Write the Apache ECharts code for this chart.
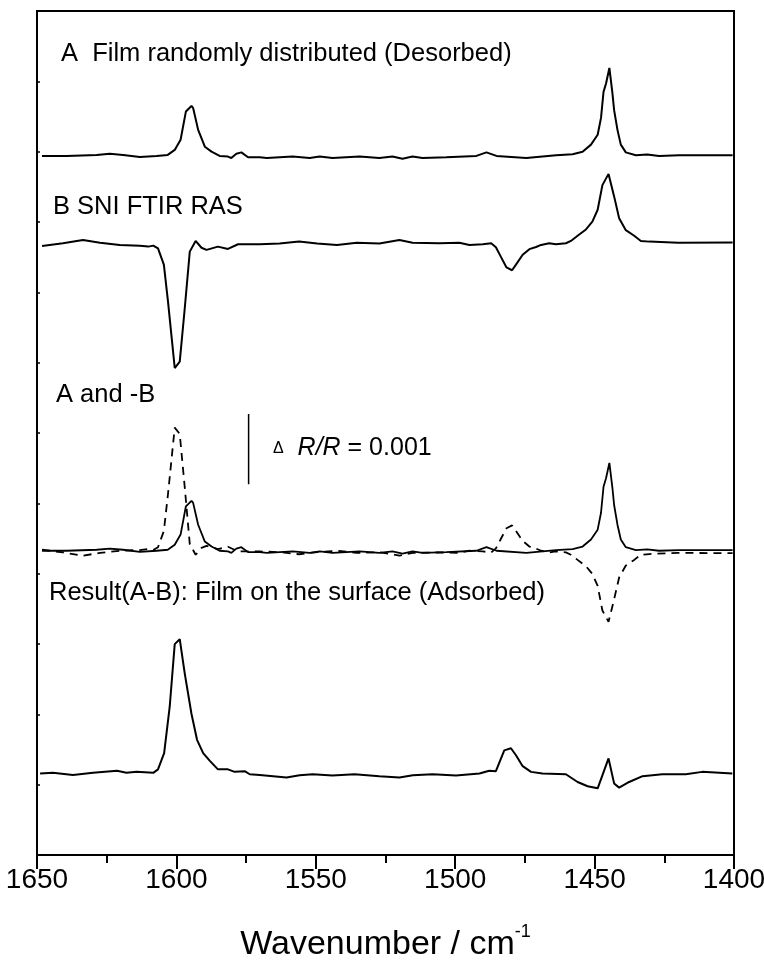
<!DOCTYPE html>
<html><head><meta charset="utf-8">
<script src="https://cdn.jsdelivr.net/npm/echarts/dist/echarts.min.js"></script>
<style>html,body{margin:0;padding:0;background:#fff}#c{width:764px;height:968px}</style>
</head><body><div id="c"></div>
<script>
// ---- Data (wavenumber in cm-1, signal in units of 0.001 ΔR/R, relative to each trace's baseline) ----
const filmA_wn = [1648.2,1639.4,1628.6,1623.9,1619.1,1613.1,1607.1,1603.1,1600.6,1598.5,1596.6,1594.6,1594.0,1592.2,1589.8,1587.4,1584.5,1581.5,1580.3,1578.5,1576.7,1574.3,1570.1,1567.6,1558.3,1552.2,1548.6,1544.0,1534.3,1527.2,1522.5,1518.9,1515.3,1511.7,1503.2,1492.4,1488.8,1485.2,1474.5,1463.8,1457.9,1454.3,1451.3,1448.9,1447.7,1446.8,1445.9,1444.7,1443.6,1443.0,1441.8,1440.6,1438.8,1435.2,1431.1,1426.9,1419.7,1400.5];
const filmA_val = [0,0,0.014,0.03,0.014,-0.015,0,0.014,0.085,0.23,0.63,0.71,0.68,0.37,0.13,0.06,0,-0.01,-0.03,0.03,0.05,-0.02,-0.02,-0.03,-0.01,-0.03,-0.01,-0.03,-0.01,-0.03,-0.01,-0.04,-0.01,-0.03,-0.02,0,0.05,0,-0.03,0.01,0.024,0.06,0.16,0.30,0.54,0.91,1.03,1.25,0.89,0.65,0.37,0.16,0.05,0.01,0.02,0,0.01,0.01];

const rasB_wn = [1648.2,1640.7,1633.5,1627.4,1620.3,1613.1,1610.1,1608.3,1606.6,1604.5,1603.0,1601.8,1600.6,1598.8,1597.0,1595.2,1593.1,1591.0,1589.2,1585.1,1581.5,1577.9,1570.1,1563.0,1556.0,1549.5,1542.4,1535.3,1527.2,1520.0,1515.3,1505.7,1498.5,1494.9,1490.1,1487.1,1485.4,1483.6,1481.6,1479.6,1478.2,1475.8,1473.4,1471.0,1469.2,1466.3,1463.9,1460.3,1458.5,1456.1,1453.1,1450.8,1448.9,1447.2,1445.0,1443.0,1441.2,1438.8,1435.8,1433.4,1430.4,1420.0,1400.5];
const rasB_val = [-0.014,0.024,0.07,0.03,0,-0.01,-0.024,-0.01,-0.05,-0.28,-0.81,-1.28,-1.75,-1.66,-0.90,-0.095,0.057,-0.04,-0.07,-0.024,-0.057,0.01,0.01,0.02,0.05,0.02,0,0.03,0.02,0.07,0.03,0.024,0.03,0,0.01,0.024,-0.033,-0.17,-0.32,-0.36,-0.28,-0.14,-0.06,-0.03,0,0.024,0.01,0.024,0.057,0.13,0.22,0.33,0.50,0.85,1.01,0.69,0.38,0.21,0.13,0.057,0.047,0.03,0.035];

const result_wn = [1648.9,1644.3,1637.1,1629.9,1621.3,1617.9,1614.3,1608.3,1606.6,1604.4,1602.4,1600.6,1598.8,1597.0,1594.6,1592.6,1590.4,1588.0,1585.1,1581.5,1579.1,1575.5,1573.7,1570.1,1560.5,1555.8,1551.1,1544.0,1536.1,1527.2,1520.0,1515.2,1508.1,1499.7,1491.3,1487.8,1485.4,1482.4,1480.0,1478.2,1475.8,1472.8,1468.7,1460.3,1456.1,1452.5,1448.9,1445.0,1443.0,1441.2,1437.6,1432.8,1425.7,1417.3,1411.4,1400.6];
const result_val = [-0.02,-0.01,-0.04,-0.01,0.02,-0.01,0.004,-0.01,0.04,0.27,0.93,1.82,1.89,1.40,0.83,0.46,0.27,0.16,0.04,0.04,0.004,0.014,-0.03,-0.04,-0.075,-0.043,-0.03,-0.047,-0.03,-0.057,-0.075,-0.043,-0.03,-0.047,-0.02,0.02,0.014,0.31,0.34,0.24,0.085,0.004,-0.02,-0.03,-0.14,-0.2,-0.23,0.195,-0.16,-0.22,-0.14,-0.057,-0.03,-0.03,0.004,-0.02];

// vertical offsets of the stacked traces (y-axis units)
const offsetA = 9.94, offsetB = 8.674, offsetMid = 4.326, offsetResult = 1.178;

// scale bar ΔR/R = 0.001
const scaleBarX = [1574.1, 1574.1];
const scaleBarY = [5.27, 6.27];

const xTicks = [1650, 1600, 1550, 1500, 1450, 1400];

function shift(wn, val, off, sign) { return wn.map((w, i) => [w, off + sign * val[i]]); }

const FONT = "'Liberation Sans', Arial, sans-serif";
const solid = { color: '#000', width: 2 };

const chart = echarts.init(document.getElementById('c'), null, { renderer: 'canvas' });
chart.setOption({
  animation: false,
  backgroundColor: '#fff',
  grid: { left: 37, right: 30, top: 11, bottom: 113, show: true, borderColor: '#000', borderWidth: 2, outerBoundsMode: 'none', containLabel: false },
  xAxis: {
    type: 'value', min: xTicks[xTicks.length - 1], max: xTicks[0], interval: 50, inverse: true,
    axisLine: { show: true, lineStyle: { color: '#000', width: 2 } },
    axisTick: { show: true, length: 14, lineStyle: { color: '#000', width: 2 } },
    minorTick: { show: true, splitNumber: 2, length: 8, lineStyle: { color: '#000', width: 2 } },
    axisLabel: { fontSize: 28, color: '#000', margin: 11, fontFamily: FONT, formatter: v => String(v), hideOverlap: false },
    splitLine: { show: false },
    name: '{n|Wavenumber / cm}{s|-1}', nameLocation: 'middle', nameGap: 68,
    nameTextStyle: {
      rich: {
        n: { fontSize: 34, fontFamily: FONT, color: '#000', lineHeight: 44 },
        s: { fontSize: 18, fontFamily: FONT, color: '#000', verticalAlign: 'top', lineHeight: 18 }
      }
    }
  },
  yAxis: {
    type: 'value', min: 0, max: 12, interval: 1,
    axisLine: { show: true, lineStyle: { color: '#000', width: 2 } },
    axisTick: { show: true, inside: true, length: 3, lineStyle: { color: '#000', width: 1.5 } },
    axisLabel: { show: false }, splitLine: { show: false }
  },
  series: [
    { name: 'A', type: 'line', showSymbol: false, data: shift(filmA_wn, filmA_val, offsetA, 1), lineStyle: solid },
    { name: 'B', type: 'line', showSymbol: false, data: shift(rasB_wn, rasB_val, offsetB, 1), lineStyle: solid },
    { name: 'A (overlay)', type: 'line', showSymbol: false, data: shift(filmA_wn, filmA_val, offsetMid, 1), lineStyle: { color: '#000', width: 1.8 } },
    { name: '-B (overlay)', type: 'line', showSymbol: false, data: shift(rasB_wn, rasB_val, offsetMid, -1), lineStyle: { color: '#000', width: 1.8, type: [8, 6] } },
    { name: 'Result A-B', type: 'line', showSymbol: false, data: shift(result_wn, result_val, offsetResult, 1), lineStyle: solid },
    { name: 'scale', type: 'line', showSymbol: false, data: scaleBarX.map((x, i) => [x, scaleBarY[i]]), lineStyle: { color: '#000', width: 1.5 } }
  ],
  graphic: [
    { type: 'text', left: 61, top: 41, style: { text: 'A  Film randomly distributed (Desorbed)', font: '25.5px ' + FONT, fill: '#000' } },
    { type: 'text', left: 53, top: 194, style: { text: 'B SNI FTIR RAS', font: '25.5px ' + FONT, fill: '#000' } },
    { type: 'text', left: 56, top: 382, style: { text: 'A and -B', font: '25.5px ' + FONT, fill: '#000' } },
    { type: 'text', left: 273, top: 436, style: {
        text: '{d|Δ}  {i|R/R} = 0.001', font: '25px ' + FONT, fill: '#000',
        rich: { d: { fontSize: 16, fontFamily: FONT }, i: { fontSize: 25, fontStyle: 'italic', fontFamily: FONT } } } },
    { type: 'text', left: 49, top: 580, style: { text: 'Result(A-B): Film on the surface (Adsorbed)', font: '25.5px ' + FONT, fill: '#000' } }
  ]
});
</script></body></html>
